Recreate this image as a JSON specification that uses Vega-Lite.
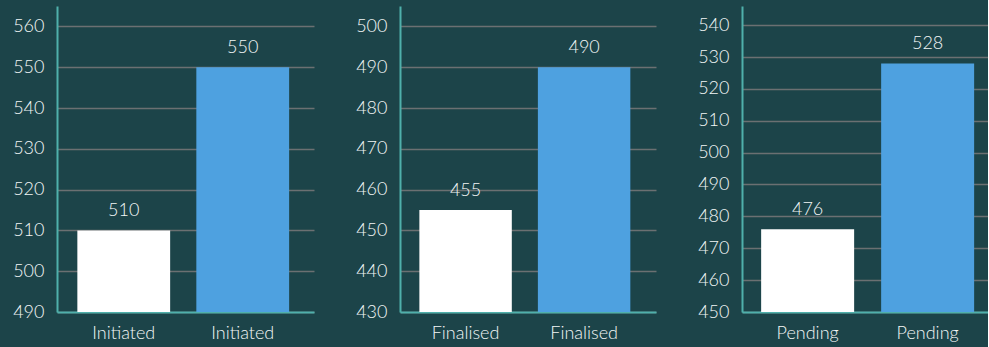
{
  "$schema": "https://vega.github.io/schema/vega-lite/v6.json",
  "background": "#1c4449",
  "padding": {"left": 12, "top": 6, "right": 0, "bottom": 6},
  "spacing": 41,
  "datasets": {
    "stages": [
      {"stage": "Initiated", "series": "Previous", "key": "Initiated|Previous", "value": 510},
      {"stage": "Initiated", "series": "Current", "key": "Initiated|Current", "value": 550},
      {"stage": "Finalised", "series": "Previous", "key": "Finalised|Previous", "value": 455},
      {"stage": "Finalised", "series": "Current", "key": "Finalised|Current", "value": 490},
      {"stage": "Pending", "series": "Previous", "key": "Pending|Previous", "value": 476},
      {"stage": "Pending", "series": "Current", "key": "Pending|Current", "value": 528}
    ]
  },
  "config": {
    "view": {"stroke": null},
    "font": "Lato",
    "axis": {
      "labelFont": "Lato",
      "labelFontSize": 18,
      "labelFontWeight": 300,
      "labelColor": "#f2f6f6",
      "domainColor": "#4fb0ab",
      "domainWidth": 2,
      "ticks": false,
      "title": null
    },
    "axisY": {
      "grid": true,
      "gridColor": "#6b7072",
      "gridWidth": 1.5,
      "labelPadding": 13
    },
    "axisX": {"grid": false, "labelAngle": 0, "labelPadding": 12},
    "text": {"font": "Lato", "fontSize": 18, "fontWeight": 300, "color": "#f2f6f6"}
  },
  "hconcat": [
    {
      "width": 257,
      "height": 306,
      "data": {"name": "stages"},
      "transform": [{"filter": "datum.stage === 'Initiated'"}],
      "encoding": {
        "x": {
          "field": "key", "type": "nominal", "sort": null,
          "scale": {"paddingInner": 0.22, "paddingOuter": 0.19, "align": 0.45},
          "axis": {"labelExpr": "split(datum.value, '|')[0]"}
        },
        "y": {
          "field": "value", "type": "quantitative",
          "scale": {"domain": [490, 565], "nice": false, "zero": false},
          "axis": {"values": [490, 500, 510, 520, 530, 540, 550, 560]}
        }
      },
      "layer": [
        {
          "mark": {"type": "bar", "clip": true},
          "encoding": {
            "color": {"field": "series", "type": "nominal", "legend": null,
              "scale": {"domain": ["Previous", "Current"], "range": ["#ffffff", "#4ea1e0"]}}
          }
        },
        {
          "mark": {"type": "text", "baseline": "bottom", "dy": -10},
          "encoding": {"text": {"field": "value", "type": "quantitative"}}
        }
      ]
    },
    {
      "width": 256,
      "height": 306,
      "data": {"name": "stages"},
      "transform": [{"filter": "datum.stage === 'Finalised'"}],
      "encoding": {
        "x": {
          "field": "key", "type": "nominal", "sort": null,
          "scale": {"paddingInner": 0.22, "paddingOuter": 0.19, "align": 0.43},
          "axis": {"labelExpr": "split(datum.value, '|')[0]"}
        },
        "y": {
          "field": "value", "type": "quantitative",
          "scale": {"domain": [430, 505], "nice": false, "zero": false},
          "axis": {"values": [430, 440, 450, 460, 470, 480, 490, 500]}
        }
      },
      "layer": [
        {
          "mark": {"type": "bar", "clip": true},
          "encoding": {
            "color": {"field": "series", "type": "nominal", "legend": null,
              "scale": {"domain": ["Previous", "Current"], "range": ["#ffffff", "#4ea1e0"]}}
          }
        },
        {
          "mark": {"type": "text", "baseline": "bottom", "dy": -10},
          "encoding": {"text": {"field": "value", "type": "quantitative"}}
        }
      ]
    },
    {
      "width": 246,
      "height": 306,
      "data": {"name": "stages"},
      "transform": [{"filter": "datum.stage === 'Pending'"}],
      "encoding": {
        "x": {
          "field": "key", "type": "nominal", "sort": null,
          "scale": {"paddingInner": 0.225, "paddingOuter": 0.1375, "align": 0.58},
          "axis": {"labelExpr": "split(datum.value, '|')[0]"}
        },
        "y": {
          "field": "value", "type": "quantitative",
          "scale": {"domain": [450, 546], "nice": false, "zero": false},
          "axis": {"values": [450, 460, 470, 480, 490, 500, 510, 520, 530, 540]}
        }
      },
      "layer": [
        {
          "mark": {"type": "bar", "clip": true},
          "encoding": {
            "color": {"field": "series", "type": "nominal", "legend": null,
              "scale": {"domain": ["Previous", "Current"], "range": ["#ffffff", "#4ea1e0"]}}
          }
        },
        {
          "mark": {"type": "text", "baseline": "bottom", "dy": -10},
          "encoding": {"text": {"field": "value", "type": "quantitative"}}
        }
      ]
    }
  ]
}
